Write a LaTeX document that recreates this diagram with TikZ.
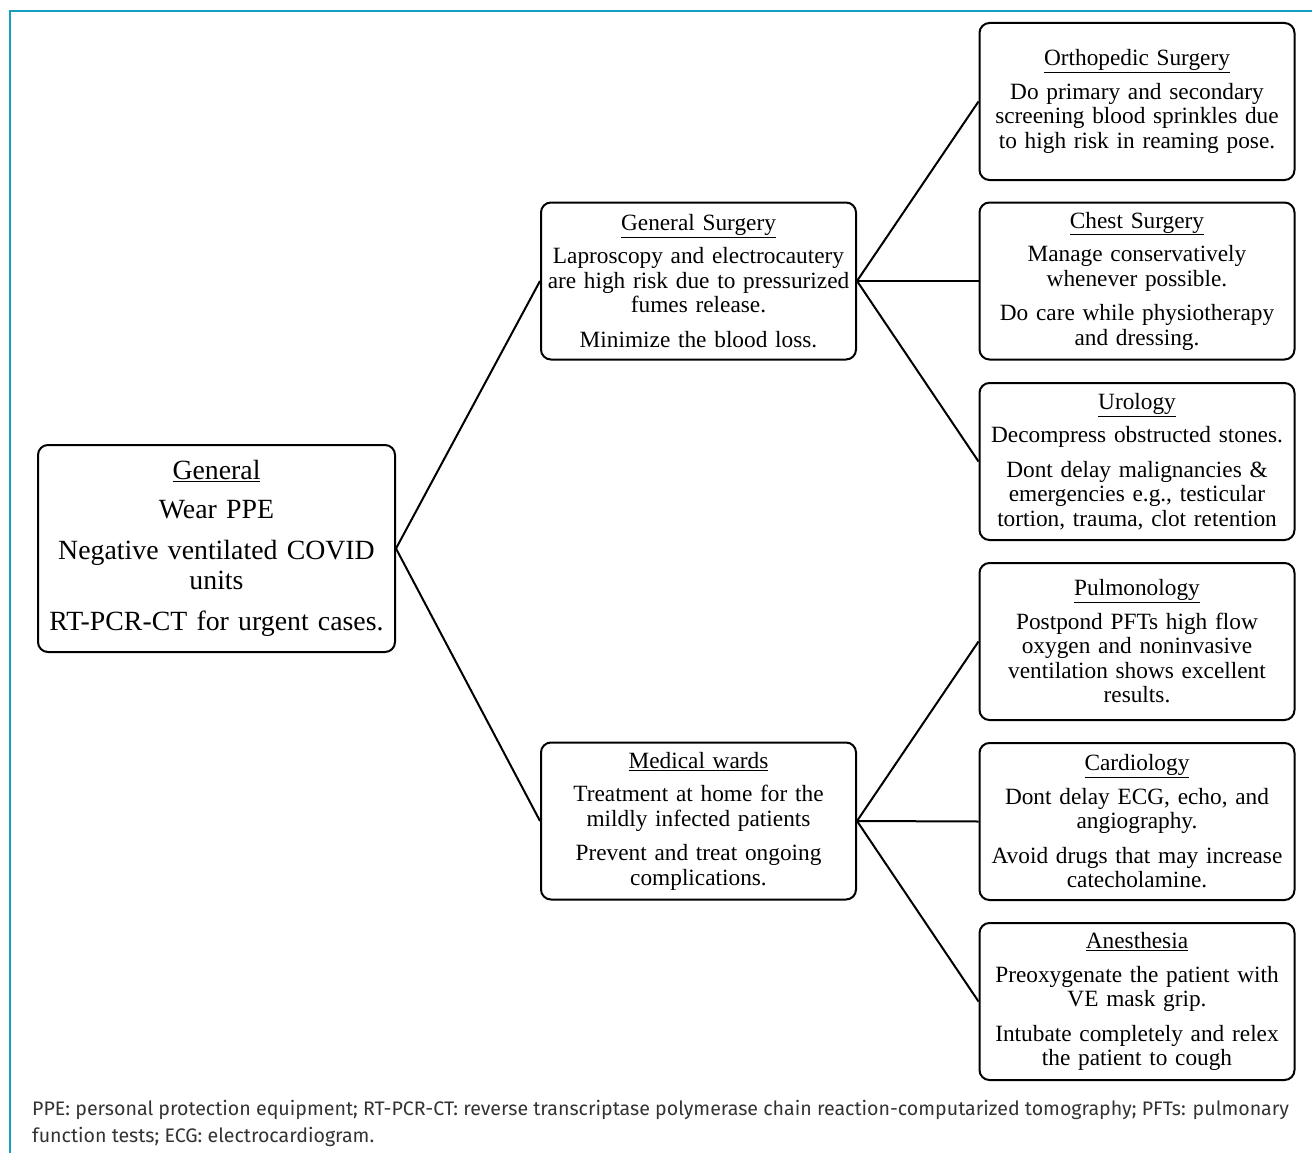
\documentclass[tikz,border=0pt]{standalone}
\usepackage{fontspec}
\setmainfont{Liberation Serif}
\newfontfamily\capfont{Fira Sans}
\usetikzlibrary{positioning}
\definecolor{framecyan}{RGB}{20,158,192}
\definecolor{capgray}{RGB}{51,51,51}
\tikzset{
  unitbox/.style={draw, line width=2pt, rounded corners=10pt, align=center, inner sep=0pt,
    minimum width=315pt, minimum height=157pt, text width=308pt,
    font=\fontsize{23.3}{24.5}\selectfont},
  rootbox/.style={unitbox, minimum width=357pt, minimum height=207pt, text width=352pt,
    font=\fontsize{27.8}{30}\selectfont},
  link/.style={line width=2pt}
}
\newcommand{\hd}[1]{\underline{#1}\\[9pt]}
\newcommand{\pg}{\\[10pt]}
\begin{document}
\begin{tikzpicture}[x=1pt,y=-1pt]
\useasboundingbox (0,0) rectangle (1312,1153);
% frame
\draw [framecyan, line width=2.5pt] (10,1153) -- (10,11) -- (1312,11);

% root
\node [rootbox] (gen) at (216.5,548.5) {\hd{General}Wear PPE\\[11pt]Negative ventilated COVID\\units\\[11pt]RT-PCR-CT for urgent cases.};

% second level
\node [unitbox] (gensurg) at (698.5,281) {\hd{General Surgery}Laproscopy and electrocautery\\are high risk due to pressurized\\fumes release.\pg Minimize the blood loss.};
\node [unitbox] (medward) at (698.5,821) {\hd{Medical wards}Treatment at home for the\\mildly infected patients\pg Prevent and treat ongoing\\complications.};

% third level
\node [unitbox] (ortho) at (1137,101.5) {\hd{Orthopedic Surgery}Do primary and secondary\\screening blood sprinkles due\\to high risk in reaming pose.};
\node [unitbox] (chest) at (1137,281) {\hd{Chest Surgery}Manage conservatively\\whenever possible.\pg Do care while physiotherapy\\and dressing.};
\node [unitbox] (uro) at (1137,461.5) {\hd{Urology}Decompress obstructed stones.\pg Dont delay malignancies \&\\emergencies e.g., testicular\\tortion, trauma, clot retention};
\node [unitbox] (pulmo) at (1137,641.5) {\hd{Pulmonology}Postpond PFTs high flow\\oxygen and noninvasive\\ventilation shows excellent\\results.};
\node [unitbox] (cardio) at (1137,821.5) {\hd{Cardiology}Dont delay ECG, echo, and\\angiography.\pg Avoid drugs that may increase\\catecholamine.};
\node [unitbox] (anest) at (1137,1001.5) {\hd{Anesthesia}Preoxygenate the patient with\\VE mask grip.\pg Intubate completely and relex\\the patient to cough};

% connectors
\draw [link] (gensurg.west) -- (gen.east) -- (medward.west);
\foreach \t in {ortho,chest,uro} \draw [link] (gensurg.east) -- (\t.west);
\foreach \t in {pulmo,cardio,anest} \draw [link] (medward.east) -- (\t.west);

% caption
\node [anchor=north west, align=left, inner sep=0pt, text=capgray,
  font=\capfont\fontsize{19.6}{27}\selectfont] (cap) at (32,1100)
  {PPE: personal protection equipment; RT-PCR-CT: reverse transcriptase polymerase chain reaction-computarized tomography; PFTs: pulmonary\\
   function tests; ECG: electrocardiogram.};
\end{tikzpicture}
\end{document}
